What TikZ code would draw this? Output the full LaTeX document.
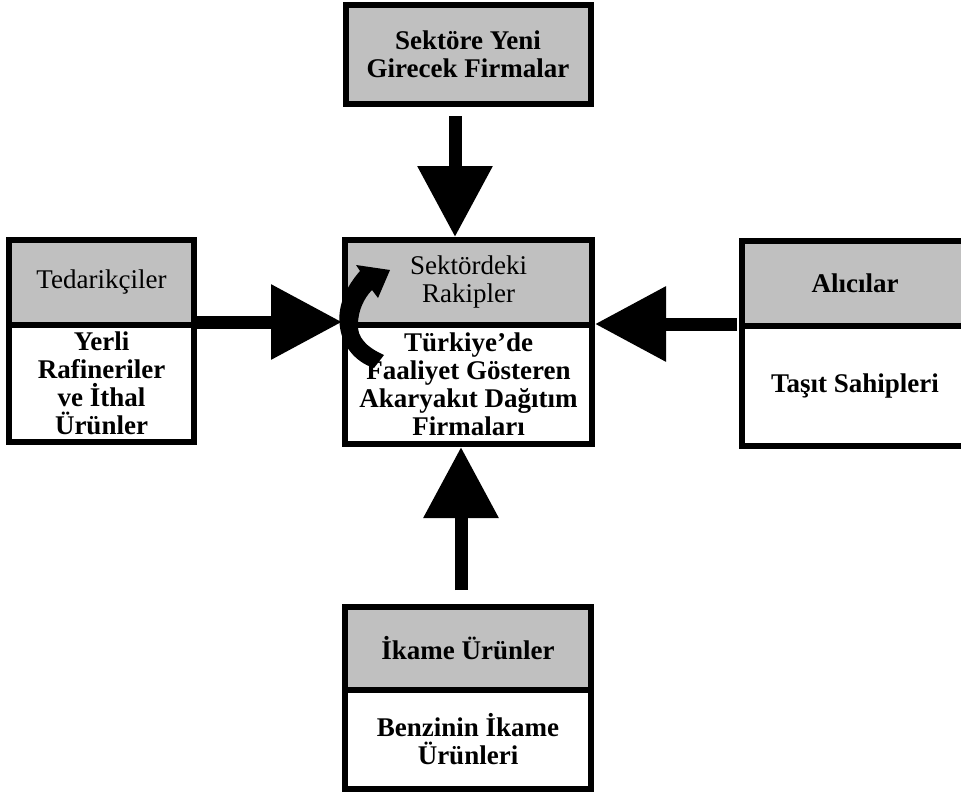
\documentclass[tikz,border=0pt]{standalone}
\usepackage{fontspec}
\setmainfont{Liberation Serif}
\usetikzlibrary{arrows.meta}
\definecolor{boxgrey}{HTML}{C0C0C0}
\tikzset{
  part/.style={draw=black, line width=6pt, outer sep=3pt, inner sep=0pt,
    anchor=north west, align=center, font=\fontsize{27}{28}\selectfont},
  greypart/.style={part, fill=boxgrey},
  whitepart/.style={part, fill=white},
  blk/.style={line width=13pt, -{Triangle[length=71pt, width=72pt]}},
}
\begin{document}
\begin{tikzpicture}[x=1pt, y=-1pt]
\useasboundingbox (0,0) rectangle (961,792);
\clip (0,0) rectangle (961,792);

% top box
\node[greypart, minimum width=245pt, minimum height=98.5pt] (yeni) at (342.5,2)
  {\textbf{Sektöre Yeni}\\\textbf{Girecek Firmalar}};

% centre box
\node[greypart, minimum width=247pt, minimum height=85pt] (rivT) at (342,237)
  {Sektördeki\\Rakipler};
\node[whitepart, minimum width=247pt, minimum height=119pt] (rivB) at (342,322)
  {\textbf{Türkiye’de}\\\textbf{Faaliyet Gösteren}\\\textbf{Akaryakıt Dağıtım}\\\textbf{Firmaları}};

% left box
\node[greypart, minimum width=185pt, minimum height=85pt] (tedT) at (6,237)
  {Tedarikçiler};
\node[whitepart, minimum width=185pt, minimum height=116.5pt] (tedB) at (6,322)
  {\textbf{Yerli}\\\textbf{Rafineriler}\\\textbf{ve İthal}\\\textbf{Ürünler}};

% right box
\node[greypart, minimum width=226pt, minimum height=85pt] (aliT) at (739,238)
  {\textbf{Alıcılar}};
\node[whitepart, minimum width=226pt, minimum height=120pt] (aliB) at (739,323)
  {\textbf{Taşıt Sahipleri}};

% bottom box
\node[greypart, minimum width=246pt, minimum height=83pt] (ikaT) at (342,604)
  {\textbf{İkame Ürünler}};
\node[whitepart, minimum width=246pt, minimum height=99pt] (ikaB) at (342,687)
  {\textbf{Benzinin İkame}\\\textbf{Ürünleri}};

% arrows
\coordinate (ta) at (455,116);
\coordinate (la) at (197,322);
\coordinate (ra) at (737,324);
\coordinate (ba) at (461,590);
\draw[blk] (ta) -- (ta |- rivT.north);
\draw[blk] (la) -- (la -| rivT.west);
\draw[blk] (ra) -- (ra -| rivT.east);
\draw[blk] (ba) -- (ba |- rivB.south);

% curved rivalry arrow
\fill[black] (384,355)
  .. controls (366,347) and (357,337) .. (358,324)
  .. controls (358,311) and (364,298) .. (372,290)
  -- (378,298) -- (390,270) -- (356,265) -- (360,271)
  .. controls (346,287) and (338,305) .. (339.5,323)
  .. controls (341,345) and (355,362) .. (374,368)
  -- cycle;
\end{tikzpicture}
\end{document}
